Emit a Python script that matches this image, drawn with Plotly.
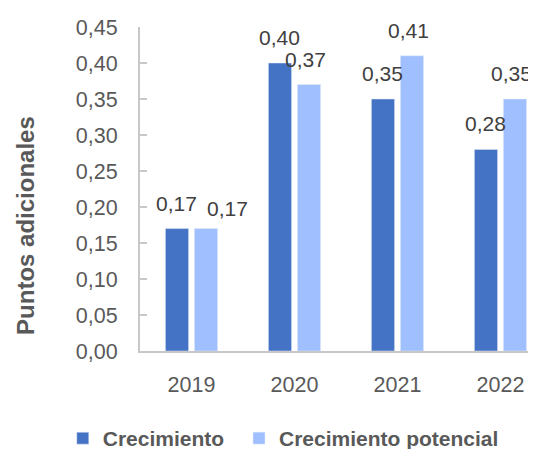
import plotly.graph_objects as go

years = ["2019", "2020", "2021", "2022"]
crecimiento = [0.17, 0.40, 0.35, 0.28]
potencial = [0.17, 0.37, 0.41, 0.35]
y_ticks = [0.00, 0.05, 0.10, 0.15, 0.20, 0.25, 0.30, 0.35, 0.40, 0.45]

FONT = "Liberation Sans, Arial, sans-serif"
NUM = 21.5
LBL = 21
DARK = "#4472C4"
LIGHT = "#A0BFFF"

def fmt(v):
    return f"{v:.2f}".replace(".", ",")

fig = go.Figure()
fig.add_trace(go.Bar(x=years, y=crecimiento, name="<b>Crecimiento</b>",
                     marker=dict(color=DARK), hoverinfo="skip", legend="legend"))
fig.add_trace(go.Bar(x=years, y=potencial, name="<b>Crecimiento potencial</b>",
                     marker=dict(color=LIGHT), hoverinfo="skip", legend="legend2"))

# data labels above bars (shift the second label right when both coincide)
annotations = []
for i, (a, b) in enumerate(zip(crecimiento, potencial)):
    same = abs(a - b) < 0.015
    annotations.append(dict(x=i, y=a, xref="x", yref="y", text=fmt(a),
                            showarrow=False, xshift=-15, yshift=12,
                            yanchor="bottom",
                            font=dict(family=FONT, size=LBL, color="#404040")))
    annotations.append(dict(x=i, y=b, xref="x", yref="y", text=fmt(b),
                            showarrow=False, xshift=11 + (25 if same else 0),
                            yshift=12 - (5 if same else 0),
                            yanchor="bottom",
                            font=dict(family=FONT, size=LBL, color="#404040")))

# y-axis title
annotations.append(dict(text="<b>Puntos adicionales</b>", textangle=-90,
                        xref="paper", yref="paper", x=-0.288, y=0.389,
                        xanchor="center", yanchor="middle", showarrow=False,
                        font=dict(family=FONT, size=24, color="#595959")))

legend_common = dict(orientation="h", xanchor="left", y=-0.27, yanchor="middle",
                     font=dict(size=21, color="#595959", family=FONT),
                     itemclick=False, itemdoubleclick=False,
                     bgcolor="rgba(0,0,0,0)")

# page body adds an 8px offset, so the figure is 8px smaller than the window
fig.update_layout(
    width=528, height=441,
    margin=dict(l=132, r=0, t=19, b=98, autoexpand=False),
    paper_bgcolor="white", plot_bgcolor="white",
    barmode="group", bargap=0.437, bargroupgap=0.2,
    separators=",.",
    font=dict(family=FONT, size=NUM, color="#595959"),
    annotations=annotations,
    xaxis=dict(
        type="category",
        range=[-0.5, 3.345], showgrid=False, showline=True, automargin=False,
        linecolor="#C8C8C8", linewidth=2, ticks="",
        ticklabelstandoff=13,
        tickfont=dict(family=FONT, size=NUM, color="#595959"),
    ),
    yaxis=dict(
        range=[0, 0.45], tickvals=y_ticks, tickformat=".2f", automargin=False,
        showgrid=False, showline=True, linecolor="#C8C8C8", linewidth=2,
        ticks="inside", ticklen=7, tickcolor="#C8C8C8", tickwidth=2,
        ticklabelstandoff=16,
        tickfont=dict(family=FONT, size=NUM, color="#595959"),
    ),
    showlegend=True,
    legend=dict(x=-0.195, **legend_common),
    legend2=dict(x=0.25, **legend_common),
)

fig.write_html("out.html")
